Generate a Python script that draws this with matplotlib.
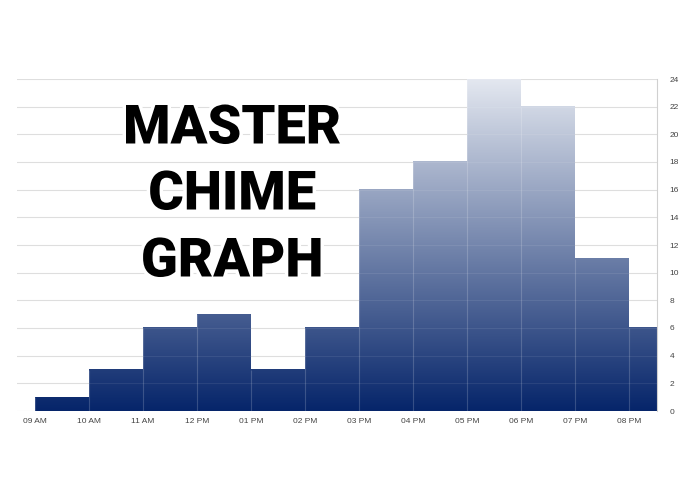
import matplotlib
matplotlib.use('Agg')
import matplotlib.pyplot as plt
import numpy as np
import matplotlib.patheffects as pe
from matplotlib.colors import LinearSegmentedColormap

# hourly chime counts (bar starts at each hour)
hours = [9, 10, 11, 12, 13, 14, 15, 16, 17, 18, 19, 20]
counts = [1, 3, 6, 7, 3, 6, 16, 18, 24, 22, 11, 6]
hour_labels = ['09 AM', '10 AM', '11 AM', '12 PM', '01 PM', '02 PM',
               '03 PM', '04 PM', '05 PM', '06 PM', '07 PM', '08 PM']
y_ticks = list(range(0, 25, 2))
title_lines = ['MASTER', 'CHIME', 'GRAPH']

W, H = 695, 494
fig = plt.figure(figsize=(W / 100, H / 100), dpi=100)
ax = fig.add_axes([17 / W, 83 / H, 640 / W, 332 / H])

ymax = 24
cmap = LinearSegmentedColormap.from_list('chime', ['#06256a', '#e4e8f0'])

# gradient bars: colour follows absolute height
grad = np.linspace(0, 1, 256).reshape(-1, 1)
for h, c in zip(hours, counts):
    frac = c / ymax
    ax.imshow(grad[: max(2, int(256 * frac))], extent=(h, h + 1, 0, c),
              origin='lower', aspect='auto', cmap=cmap, vmin=0, vmax=1,
              zorder=1, interpolation='bilinear')
    # faint separator between neighbouring bars
    ax.vlines(h, 0, c, color=(1, 1, 1, 0.18), linewidth=0.8, zorder=2)

ax.set_xlim(9 - 18 / 54, 9 + 622 / 54)
ax.set_ylim(0, ymax)

for yt in y_ticks:
    ax.axhline(yt, color='#dcdcdc', linewidth=0.8, zorder=0)
    ax.axhline(yt, color='#ffffff', alpha=0.08, linewidth=0.8, zorder=3)

tick_font = ['Liberation Sans', 'DejaVu Sans']
ax.yaxis.tick_right()
ax.set_yticks(y_ticks)
ax.set_yticklabels([str(v) for v in y_ticks], fontsize=6, color='#444444',
                   family=tick_font)
ax.set_xticks(hours)
ax.set_xticklabels(hour_labels, fontsize=6, color='#444444', family=tick_font)
ax.tick_params(axis='both', length=0, pad=9)
ax.tick_params(axis='x', pad=5)
for s in ['top', 'left', 'bottom']:
    ax.spines[s].set_visible(False)
ax.spines['right'].set_color('#d0d0d0')
ax.spines['right'].set_linewidth(0.8)

ys = [129, 195, 262]
for line, yp in zip(title_lines, ys):
    fig.text(232 / W, 1 - yp / H, line, ha='center', va='center',
             fontsize=39, fontweight='black', family=['Roboto', 'DejaVu Sans'],
             color='black',
             path_effects=[pe.withStroke(linewidth=5, foreground='white')],
             zorder=10)

fig.savefig('out.png', dpi=100)
